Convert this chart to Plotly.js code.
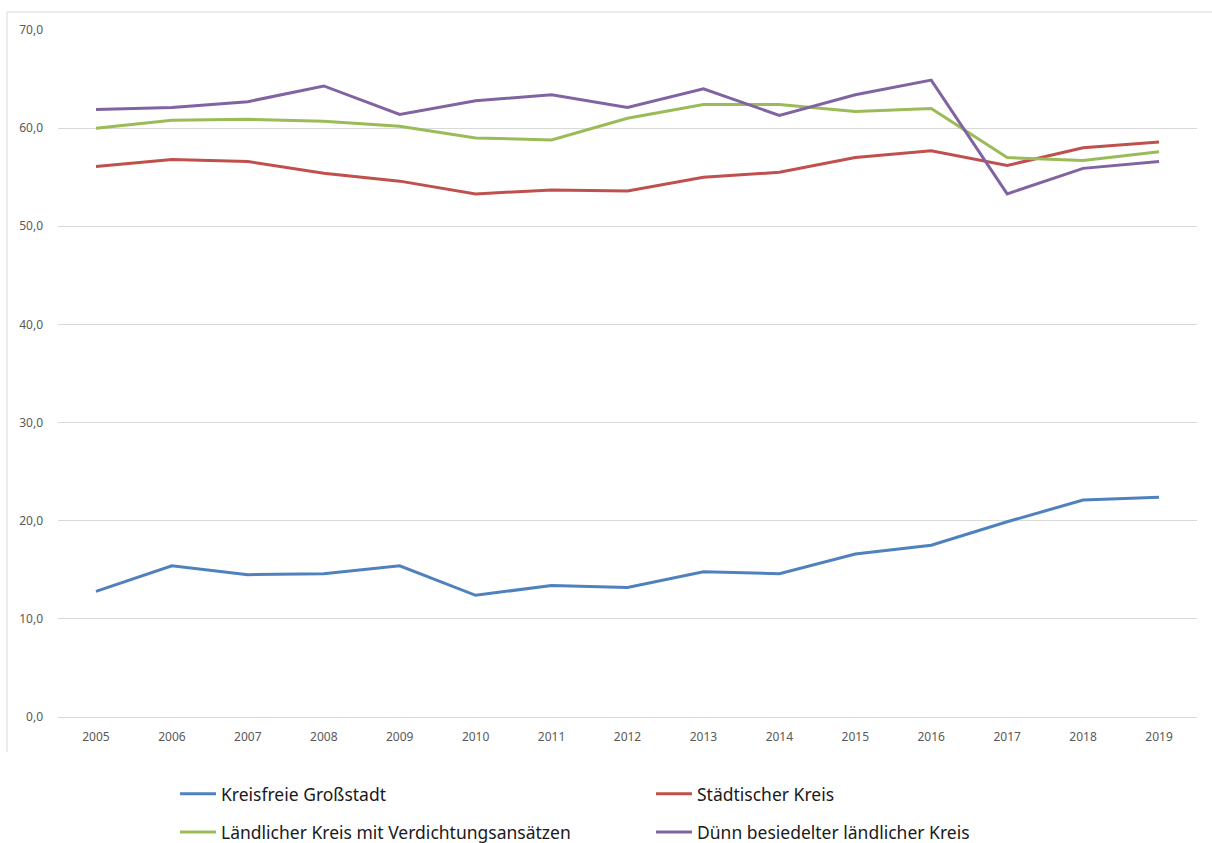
<!DOCTYPE html>
<html>
<head>
<meta charset="utf-8">
<script src="https://cdn.plot.ly/plotly-3.0.1.min.js"></script>
<style>
  html, body { margin: 0; padding: 0; background: #ffffff; }
  #chart { width: 1212px; height: 843px; }
</style>
</head>
<body>
<div id="chart"></div>
<script>
// Years on the category axis
const years = ['2005', '2006', '2007', '2008', '2009', '2010', '2011', '2012',
               '2013', '2014', '2015', '2016', '2017', '2018', '2019'];

// Series values per district type
const kreisfreieGrossstadt = [12.8, 15.4, 14.5, 14.6, 15.4, 12.4, 13.4, 13.2,
                              14.8, 14.6, 16.6, 17.5, 19.9, 22.1, 22.4];
const staedtischerKreis = [56.1, 56.8, 56.6, 55.4, 54.6, 53.3, 53.7, 53.6,
                           55.0, 55.5, 57.0, 57.7, 56.2, 58.0, 58.6];
const laendlicherKreisVerdichtung = [60.0, 60.8, 60.9, 60.7, 60.2, 59.0, 58.8, 61.0,
                                     62.4, 62.4, 61.7, 62.0, 57.0, 56.7, 57.6];
const duennBesiedelterKreis = [61.9, 62.1, 62.7, 64.3, 61.4, 62.8, 63.4, 62.1,
                               64.0, 61.3, 63.4, 64.9, 53.3, 55.9, 56.6];

// Legend labels
const seriesNames = ['Kreisfreie Großstadt', 'Städtischer Kreis',
                     'Ländlicher Kreis mit Verdichtungsansätzen',
                     'Dünn besiedelter ländlicher Kreis'];

const colors = ['#4F81BD', '#C0504D', '#9BBB59', '#8064A2'];
const seriesValues = [kreisfreieGrossstadt, staedtischerKreis,
                      laendlicherKreisVerdichtung, duennBesiedelterKreis];
// first row of the legend: series 0 and 1, second row: series 2 and 3
const legendRow = ['legend', 'legend', 'legend2', 'legend2'];

const traces = seriesValues.map((vals, i) => ({
  type: 'scatter',
  mode: 'lines',
  x: years,
  y: vals,
  name: seriesNames[i],
  legend: legendRow[i],
  line: { color: colors[i], width: 3 },
  hoverinfo: 'skip'
}));

const legendStyle = {
  orientation: 'h',
  xanchor: 'left',
  yanchor: 'middle',
  x: 0.1027,
  entrywidth: 425,
  entrywidthmode: 'pixels',
  itemwidth: 36,
  bgcolor: 'rgba(0,0,0,0)',
  font: { family: 'Noto Sans, sans-serif', size: 17.5, color: '#1a1a1a' },
  traceorder: 'normal'
};

const layout = {
  width: 1212,
  height: 843,
  paper_bgcolor: '#ffffff',
  plot_bgcolor: '#ffffff',
  separators: ',.',
  margin: { l: 58, r: 15, t: 30, b: 126, autoexpand: false },
  font: { family: 'Noto Sans, sans-serif', size: 12, color: '#595959' },
  showlegend: true,
  hovermode: false,
  xaxis: {
    type: 'category',
    range: [-0.5, 14.5],
    showgrid: false,
    zeroline: false,
    showline: false,
    ticks: '',
    ticklabelstandoff: 11,
    tickfont: { size: 12, color: '#595959' },
    fixedrange: true
  },
  yaxis: {
    range: [0, 70],
    dtick: 10,
    tick0: 0,
    tickformat: '.1f',
    showgrid: true,
    gridcolor: '#d9d9d9',
    gridwidth: 1,
    zeroline: true,
    zerolinecolor: '#d9d9d9',
    zerolinewidth: 1,
    showline: false,
    ticks: '',
    ticklabelstandoff: 14,
    tickfont: { size: 12, color: '#595959' },
    fixedrange: true
  },
  legend: Object.assign({}, legendStyle, { y: -0.112 }),
  legend2: Object.assign({}, legendStyle, { y: -0.1675 }),
  shapes: [
    {
      // outer chart frame (top and left edges)
      type: 'path',
      xref: 'paper', yref: 'paper',
      path: 'M -0.0448,-0.051 L -0.0448,1.0262 L 1.0132,1.0262',
      line: { color: '#d9d9d9', width: 1 },
      layer: 'below'
    }
  ]
};

Plotly.newPlot('chart', traces, layout, { displayModeBar: false, staticPlot: true });
</script>
</body>
</html>
